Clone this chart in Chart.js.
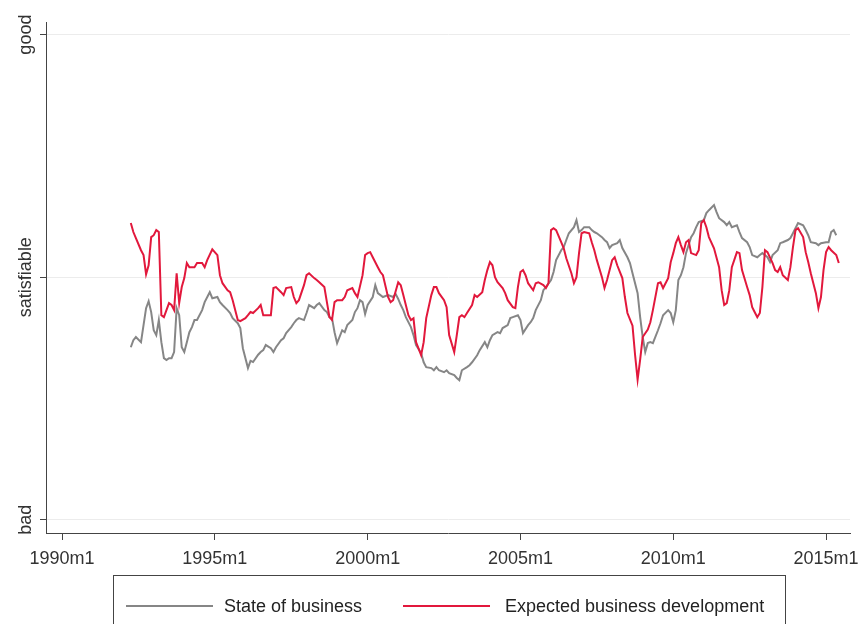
<!DOCTYPE html>
<html>
<head>
<meta charset="utf-8">
<script src="https://cdn.jsdelivr.net/npm/chart.js@4.4.1/dist/chart.umd.min.js"></script>
<style>
html,body{margin:0;padding:0;background:#fff;}
#wrap{position:relative;width:859px;height:624px;overflow:hidden;background:#fff;}
#legend{position:absolute;left:113px;top:575px;width:673px;height:80px;border:1px solid #444;box-sizing:border-box;font-family:"Liberation Sans",Arial,sans-serif;font-size:18px;color:#222;}
.sw{position:absolute;top:29px;height:2px;width:87px;}
.tx{position:absolute;top:19px;line-height:22px;white-space:nowrap;}
</style>
</head>
<body>
<div id="wrap">
<canvas id="c" width="859" height="624"></canvas>
<div id="legend">
  <div class="sw" id="sw1" style="left:12px;"></div><div class="tx" id="lb1" style="left:110px;"></div>
  <div class="sw" id="sw2" style="left:289px;"></div><div class="tx" id="lb2" style="left:391px;"></div>
</div>
</div>
<script>
// x values are months since 1990m1
const tickMonths = [0, 60, 120, 180, 240, 300];
const tickLabels = ['1990m1', '1995m1', '2000m1', '2005m1', '2010m1', '2015m1'];
const yTickValues = [-100, 0, 100];
const yTickLabels = ['bad', 'satisfiable', 'good'];
const seriesNames = ['State of business', 'Expected business development'];
const seriesColors = ['#868686', '#e2183c'];

const stateMonths = [27,28,29,31,32,33,34,35,36,37,38,39,40,41,42,43,44,45,46,47,48,49,50,51,52,53,55,56,58,59,61,62,63,65,66,67,69,70,71,73,74,75,77,78,79,80,82,83,84,86,87,88,90,91,92,93,95,96,97,99,100,101,103,104,105,106,107,108,110,111,112,114,115,116,117,118,119,120,122,123,124,126,128,130,131,132,133,134,135,137,138,139,141,142,143,145,146,147,148,150,151,152,154,155,156,157,159,160,161,163,164,166,167,168,169,171,172,173,175,176,177,179,180,181,183,184,185,186,188,189,190,192,193,194,196,197,198,199,201,202,203,204,205,207,208,209,210,212,213,214,215,216,218,219,220,222,223,224,226,227,228,229,230,231,232,234,235,236,238,239,240,241,242,243,244,245,247,248,249,250,252,253,254,256,257,258,260,261,262,263,265,266,267,269,270,271,273,274,275,277,278,279,281,282,283,285,286,287,289,291,292,293,294,296,297,298,300,301,302,303,304];
const stateValues = [-28.9,-26.0,-24.7,-26.8,-19.8,-12.8,-9.9,-14.4,-21.9,-23.9,-17.7,-26.8,-33.4,-34.2,-33.4,-33.4,-30.9,-12.8,-15.7,-28.9,-30.9,-26.8,-22.7,-20.6,-17.7,-17.7,-13.6,-10.3,-6.2,-8.7,-8.2,-10.3,-11.5,-13.6,-14.8,-16.9,-19.0,-21.0,-29.3,-37.5,-34.5,-35.0,-32.0,-30.9,-30.1,-28.0,-29.3,-30.9,-28.9,-26.0,-25.2,-23.1,-20.6,-19.0,-17.7,-16.9,-17.7,-14.8,-11.5,-12.8,-11.5,-10.7,-13.6,-14.4,-16.5,-16.9,-22.7,-27.2,-21.9,-22.7,-19.8,-17.7,-14.4,-12.8,-9.5,-10.3,-15.2,-11.5,-8.2,-3.3,-6.6,-8.2,-7.4,-8.2,-7.0,-9.0,-11.5,-13.6,-16.5,-20.6,-23.9,-28.0,-31.3,-35.1,-37.1,-37.5,-38.4,-37.1,-38.4,-39.2,-38.4,-39.6,-40.4,-41.6,-42.5,-38.4,-37.1,-36.3,-35.1,-32.2,-30.1,-26.8,-28.9,-26.0,-23.9,-22.7,-23.1,-21.0,-19.8,-16.9,-16.5,-15.7,-17.7,-23.1,-19.8,-18.6,-16.9,-13.6,-9.5,-5.4,-4.1,-1.2,2.1,7.0,11.1,12.4,15.3,18.1,20.6,23.5,18.6,19.4,20.6,20.6,19.4,18.6,18.1,16.5,15.3,14.4,12.0,13.2,14.0,15.3,12.0,8.2,5.8,1.6,-6.6,-16.5,-24.7,-30.9,-27.2,-26.8,-27.2,-21.9,-19.0,-15.7,-13.6,-14.8,-18.6,-13.6,-1.2,0.8,4.1,9.9,16.5,18.1,20.6,22.7,23.5,26.4,27.6,29.7,26.8,24.3,22.7,21.4,22.7,20.6,21.4,18.6,16.1,14.4,12.4,9.1,8.2,9.1,9.9,8.2,6.2,9.1,11.1,14.0,14.4,15.3,16.1,18.1,22.3,21.4,19.4,17.3,14.4,14.0,13.2,14.0,14.4,14.4,18.6,19.4,17.3];

const expMonths = [27,28,29,31,32,33,34,35,36,37,38,39,40,41,42,43,44,45,46,47,48,49,50,51,52,53,55,56,57,59,61,62,63,65,66,67,69,70,72,73,74,75,77,78,79,80,82,83,84,86,87,88,90,91,92,93,95,96,97,99,100,101,103,104,105,106,107,108,110,111,112,114,115,116,118,119,120,121,122,124,125,126,128,129,130,132,133,134,136,137,138,139,141,142,143,145,146,147,148,150,151,152,154,155,156,157,158,159,161,162,163,165,166,167,168,169,170,171,173,174,175,177,178,179,180,181,182,183,185,186,187,189,190,191,192,193,194,196,197,198,200,201,202,203,204,205,207,208,209,210,212,213,214,216,217,218,220,221,222,224,225,226,227,228,230,231,232,234,235,236,238,239,240,241,242,243,244,245,246,247,249,250,251,252,253,254,256,258,259,260,261,262,263,265,266,267,269,270,271,272,273,274,275,276,277,279,280,281,282,283,285,286,287,288,289,291,292,293,294,296,297,298,299,300,301,302,304,305];
const expValues = [22.3,18.6,16.1,11.1,9.1,1.2,4.9,16.5,17.3,19.4,18.6,-15.7,-16.5,-13.6,-10.7,-11.5,-13.6,1.6,-10.7,-4.1,-0.4,5.8,4.1,4.1,4.1,5.8,5.8,4.1,7.0,11.5,9.1,0.8,-2.5,-5.4,-6.2,-9.5,-17.7,-18.1,-16.9,-15.7,-14.4,-14.8,-12.8,-11.5,-15.7,-15.7,-15.7,-4.5,-4.1,-6.2,-7.4,-4.5,-4.1,-8.2,-10.7,-9.5,-3.3,0.8,1.6,-0.4,-1.2,-2.1,-4.1,-10.3,-16.5,-17.7,-10.3,-9.5,-9.5,-8.2,-5.4,-4.5,-6.6,-8.2,0.8,9.1,9.9,10.3,8.2,4.1,2.1,0.8,-8.2,-10.3,-9.5,-2.1,-3.3,-7.4,-15.7,-17.7,-17.0,-26.8,-32.2,-26.8,-16.9,-7.4,-4.1,-4.1,-6.6,-9.5,-12.4,-23.9,-30.9,-23.9,-16.5,-15.7,-16.5,-14.8,-11.5,-7.4,-8.2,-6.2,-1.2,2.9,6.2,4.9,0,-2.1,-4.5,-6.6,-9.5,-12.4,-12.8,-4.1,2.1,2.9,0.8,-2.5,-5.4,-2.5,-2.1,-3.3,-4.5,-2.5,19.4,20.2,19.4,14.4,11.9,7.8,1.6,-2.5,0,9.9,18.1,18.6,18.1,14.4,11.1,7.0,0,-4.5,-1.2,7.0,8.2,4.9,-0.4,-8.2,-14.8,-20.0,-32.0,-42.3,-34.0,-24.7,-21.6,-18.6,-13.6,-2.5,-2.1,-4.5,-0.4,6.2,9.9,14.0,16.5,13.2,10.3,14.4,15.3,9.9,9.1,11.1,22.3,23.5,20.6,16.5,11.9,4.1,-5.4,-11.5,-10.7,-5.4,4.1,10.3,9.9,2.9,-4.1,-7.4,-12.4,-14.5,-16.5,-14.8,-4.1,11.1,10.3,5.8,2.9,2.1,4.1,0.8,-1.2,4.1,12.4,19.4,20.2,16.5,10.3,6.2,1.6,-6.6,-12.8,-8.2,2.9,10.3,12.4,11.1,9.1,5.8];

const FONT = '"Liberation Sans", Arial, sans-serif';

document.getElementById('sw1').style.background = seriesColors[0];
document.getElementById('sw2').style.background = seriesColors[1];
document.getElementById('lb1').textContent = seriesNames[0];
document.getElementById('lb2').textContent = seriesNames[1];

const yLabelPlugin = {
  id: 'ylabels',
  afterDraw(chart) {
    const ctx = chart.ctx, ys = chart.scales.y;
    ctx.save();
    ctx.font = '18px ' + FONT;
    ctx.fillStyle = '#333';
    ctx.textAlign = 'center';
    ctx.textBaseline = 'middle';
    yTickValues.forEach((v, i) => {
      const py = ys.getPixelForValue(v);
      ctx.save();
      ctx.translate(26, py);
      ctx.rotate(-Math.PI / 2);
      ctx.fillText(yTickLabels[i], 0, 0);
      ctx.restore();
    });
    ctx.restore();
  }
};

new Chart(document.getElementById('c'), {
  type: 'line',
  data: {
    datasets: [
      {
        label: seriesNames[0],
        data: stateMonths.map((m, i) => ({x: m, y: stateValues[i]})),
        borderColor: seriesColors[0], borderWidth: 2, pointRadius: 0, tension: 0, fill: false, order: 1
      },
      {
        label: seriesNames[1],
        data: expMonths.map((m, i) => ({x: m, y: expValues[i]})),
        borderColor: seriesColors[1], borderWidth: 2, pointRadius: 0, tension: 0, fill: false, order: 0
      }
    ]
  },
  options: {
    responsive: false,
    animation: false,
    layout: {padding: {top: 22, right: 9, bottom: 51, left: 0}},
    plugins: {legend: {display: false}, tooltip: {enabled: false}},
    scales: {
      x: {
        type: 'linear', min: -6.3, max: 309.4,
        afterBuildTicks: s => { s.ticks = tickMonths.map(v => ({value: v})); },
        afterFit: s => { s.height = 40; s.paddingLeft = 0; s.paddingRight = 0; },
        ticks: {
          callback: v => tickLabels[tickMonths.indexOf(v)],
          font: {size: 18, family: FONT}, color: '#333', padding: 8,
          maxRotation: 0, minRotation: 0, autoSkip: false
        },
        grid: {drawOnChartArea: false, drawTicks: true, tickLength: 7, tickColor: '#444', tickWidth: 1},
        border: {display: true, color: '#444', width: 1}
      },
      y: {
        type: 'linear', min: -105.5, max: 105.2,
        afterBuildTicks: s => { s.ticks = yTickValues.map(v => ({value: v})); },
        afterFit: s => { s.width = 46; },
        ticks: {display: false},
        grid: {color: '#ececec', lineWidth: 1, drawTicks: true, tickLength: 6, tickColor: '#444', tickWidth: 1},
        border: {display: true, color: '#444', width: 1}
      }
    }
  },
  plugins: [yLabelPlugin]
});
</script>
</body>
</html>
